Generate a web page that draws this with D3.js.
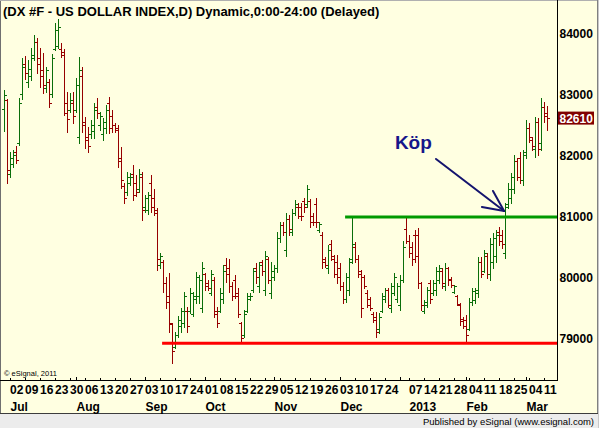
<!DOCTYPE html>
<html><head><meta charset="utf-8">
<script src="https://cdn.jsdelivr.net/npm/d3@7"></script>
<style>html,body{margin:0;padding:0;background:#fff;} svg{display:block;}</style>
</head><body><svg id="c" width="599" height="428"></svg>
<script>
// ---------- DATA ----------
const title = "(DX #F - US DOLLAR INDEX,D) Dynamic,0:00-24:00 (Delayed)";
const opens = [
82760,82900,81700,81850,82050,82200,83000,83500,83200,83300,
83600,83850,83600,83400,83100,83200,83000,83750,83800,83750,
83700,82850,82750,82850,82750,82300,83300,82550,82300,82350,
82400,82800,82500,82350,82450,82850,82650,82500,82450,81950,
81500,81400,81550,81700,81550,81450,81650,81150,81100,81550,
81300,81050,80200,80250,79900,79700,79230,78850,79050,79200,
79250,79450,79450,79400,79650,79700,79500,80050,79900,79750,
79950,79450,79450,79650,80200,80150,79850,79950,79750,79250,
79050,79450,79650,79800,80150,79850,80250,79800,80300,79750,
80000,80150,80650,80850,80450,80950,80750,81050,81150,81150,
81250,81200,81250,81000,81200,80780,80700,80300,80150,80550,
80300,80250,80150,79850,79650,79800,80300,80500,80300,80050,
80000,79750,79650,79400,79350,79150,79450,79650,79800,79500,
79750,79650,79550,79950,80800,80600,80500,80700,80700,79900,
79450,79550,79900,79750,79800,79950,80100,79850,80150,79980,
79760,79690,79550,79320,79300,79150,79600,79620,79750,80250,
80100,80350,80050,80250,80350,80750,80700,80400,81200,81300,
81450,81900,81950,81600,82050,82450,82250,82100,82550,82200,
82800,82700];
const highs = [
83070,82920,82055,82087,82150,82940,83595,83630,83560,83760,
83970,83920,83760,83675,83450,83250,83660,84170,84235,83840,
83740,83040,83020,83040,83265,83610,83450,82625,82460,82580,
82860,82940,82710,82610,82825,82955,82745,82530,82500,82135,
81550,81725,81710,81840,81675,81775,81725,81350,81400,81675,
81450,81135,80400,80285,80005,80070,79250,79105,79365,79495,
79760,79515,79825,79760,80085,80040,80250,80070,79955,80120,
80005,79515,79825,80200,80315,80300,79920,80040,79825,79265,
79465,79740,79740,80150,80235,80250,80285,80430,80335,80250,
80200,80740,80905,80905,81050,81020,81120,81265,81220,81220,
81300,81515,81285,81055,81300,80905,80740,80335,80530,80610,
80365,80365,80235,79920,80070,80315,80970,80580,80365,80120,
80040,79790,79675,79430,79430,79415,79740,79825,79825,79905,
80070,79905,80040,80595,80990,80695,80580,80775,80810,79920,
79630,79840,79955,79955,80170,80200,80150,80235,80170,80005,
79875,79710,79580,79350,79380,79660,79825,79825,80335,80335,
80450,80400,80645,80725,80775,80825,80775,81220,81545,81710,
82005,81955,82055,82085,82580,82530,82300,82625,82610,82940,
82875,82810];
const lows = [
82398,81550,81645,81810,81875,82170,82920,83250,83120,83235,
83560,83350,83120,83020,83040,82790,82950,83725,83760,83610,
82660,82380,82710,82530,82710,82200,82380,82120,82055,82285,
82285,82610,82415,82250,82365,82365,82380,82380,81810,81465,
81220,81350,81515,81270,81330,81400,80940,81070,81040,81070,
81020,80120,80150,79760,79495,79105,78595,78840,79020,79105,
79185,79105,79415,79365,79580,79580,79430,79790,79790,79710,
79350,79185,79430,79580,79920,79760,79630,79660,79350,78940,
79020,79430,79630,79760,79905,79760,80040,79710,79905,79660,
79955,80085,80580,80690,80350,80690,80690,81020,80970,80940,
81070,81155,80825,80860,80825,80740,80150,80170,80070,80285,
80005,79905,79790,79580,79595,79710,80235,80250,80005,79350,
79825,79515,79465,79265,79020,79085,79430,79595,79515,79430,
79710,79595,79465,79920,80565,80335,80200,80250,79825,79465,
79415,79515,79580,79710,79710,79905,79825,79790,79875,79840,
79740,79545,79220,79170,78925,79135,79545,79580,79675,80005,
80085,79995,79955,80150,80250,80530,80480,80315,81135,81220,
81380,81595,81545,81510,81955,82220,82085,81970,82005,82085,
82545,82415];
const closes = [
82990,81760,81950,82000,81920,82850,83450,83350,83420,83650,
83850,83500,83300,83150,83400,82850,83600,84050,84100,83650,
82700,82600,82900,82650,83150,83400,82500,82250,82150,82500,
82750,82700,82650,82550,82750,82450,82500,82420,81900,81600,
81300,81650,81650,81350,81400,81700,81100,81300,81350,81150,
81100,80300,80350,79900,79600,79250,78800,79050,79300,79450,
79700,79200,79750,79700,80000,79950,80150,79850,79820,80050,
79400,79250,79750,80100,80050,79850,79700,79700,79400,79000,
79400,79700,79700,80100,80000,80200,80100,80350,79950,80100,
80150,80650,80850,80750,80950,80800,81050,81200,81000,81000,
81150,81450,80900,80900,80900,80880,80250,80200,80450,80350,
80050,80000,79850,79650,80000,80250,80550,80300,80100,79500,
79850,79550,79500,79300,79100,79350,79700,79800,79550,79850,
80000,79850,79950,80500,80600,80400,80300,80350,79900,79550,
79600,79800,79650,79900,80100,80150,79900,80150,79950,79870,
79850,79570,79280,79200,79050,79600,79780,79800,80250,80050,
80400,80050,80550,80650,80700,80600,80550,81150,81450,81650,
81900,81650,81600,82000,82450,82300,82150,82550,82100,82800,
82650,82610];

const yTicks = [79000, 80000, 81000, 82000, 83000, 84000];
const lastPrice = 82610;

// trading calendar (daily bars)
const firstDay = "2012-06-28", lastDay = "2013-03-12";
const holidays = ["2012-12-25", "2013-01-01"];
const weekTickDates = ["2012-07-02","2012-07-09","2012-07-16","2012-07-23","2012-07-30",
  "2012-08-06","2012-08-13","2012-08-20","2012-08-27","2012-09-03","2012-09-10","2012-09-17","2012-09-24",
  "2012-10-01","2012-10-08","2012-10-15","2012-10-22","2012-10-29","2012-11-05","2012-11-12","2012-11-19","2012-11-26",
  "2012-12-03","2012-12-10","2012-12-17","2012-12-24","2013-01-07","2013-01-14","2013-01-21","2013-01-28",
  "2013-02-04","2013-02-11","2013-02-18","2013-02-25","2013-03-04","2013-03-11"];
const monthLabels = ["Jul","Aug","Sep","Oct","Nov","Dec","2013","Feb","Mar"];
const monthLabelDates = ["2012-07-02","2012-08-01","2012-09-03","2012-10-01","2012-11-01","2012-12-03","2013-01-07","2013-02-01","2013-03-01"];
const monthStartDates = ["2012-08-01","2012-09-03","2012-10-01","2012-11-01","2012-12-03","2013-01-02","2013-02-01","2013-03-01"];

// annotations (bar index, price)
const supportLevel = 78920, supportStart = 52.7;
const resistanceLevel = 80990, resistanceStart = 113.7;
const arrowTail = [144, 81940], arrowHead = [166.7, 81087];
const arrowBarbs = [[159.3, 81153], [163, 81415]];
const noteText = "Köp", notePos = [130.3, 82100];

// ---------- CHART ----------
const W = 599, H = 428;
const svg = d3.select("#c");
const bg = "#ffffe1";
const fmt = d3.timeFormat("%Y-%m-%d");
const parse = d3.timeParse("%Y-%m-%d");
const days = d3.timeDay.range(parse(firstDay), d3.timeDay.offset(parse(lastDay), 1))
  .filter(d => d.getDay() % 6 !== 0 && !holidays.includes(fmt(d))).map(fmt);
const idxOf = s => days.indexOf(s);
const N = closes.length;

const x = d3.scaleLinear().domain([0, N - 1]).range([4, 547]);
const y = d3.scaleLinear().domain([79000, 84000]).range([338.3, 33.3]);
const plotRight = 557.5, axisY = 380.5;

svg.append("rect").attr("x",0).attr("y",0).attr("width",W).attr("height",414).attr("fill",bg);
svg.append("rect").attr("x",0).attr("y",414).attr("width",W).attr("height",14).attr("fill","#ececec");
svg.append("line").attr("x1",0).attr("x2",W).attr("y1",413.5).attr("y2",413.5).attr("stroke","#3c3c3c");
svg.append("line").attr("x1",0.5).attr("x2",0.5).attr("y1",0).attr("y2",413).attr("stroke","#707070");
svg.append("line").attr("x1",0).attr("x2",W).attr("y1",0.5).attr("y2",0.5).attr("stroke","#b0b0b0");
svg.append("line").attr("x1",597.5).attr("x2",597.5).attr("y1",0).attr("y2",413).attr("stroke","#808080");
svg.append("line").attr("x1",598.5).attr("x2",598.5).attr("y1",0).attr("y2",428).attr("stroke","#c8c8c8");

// title
svg.append("text").attr("x",3).attr("y",15.5).text(title)
  .attr("font-family","'Liberation Sans', Arial, sans-serif").attr("font-weight","bold")
  .attr("font-size",13).attr("fill","#000");

// bars
const up = "#0a6e0a", dn = "#960000";
const g = svg.append("g").attr("shape-rendering","crispEdges");
for (let i = 0; i < N; i++) {
  const xi = Math.round(x(i)) + 0.5;
  const c = closes[i] >= opens[i] ? up : dn;
  const yh = Math.round(y(highs[i])), yl = Math.round(y(lows[i]));
  g.append("line").attr("x1",xi).attr("x2",xi).attr("y1",yh).attr("y2",yl+1).attr("stroke",c);
  const yo = Math.round(y(opens[i])) + 0.5, yc = Math.round(y(closes[i])) + 0.5;
  g.append("line").attr("x1",xi-2.5).attr("x2",xi).attr("y1",yo).attr("y2",yo).attr("stroke",c);
  g.append("line").attr("x1",xi).attr("x2",xi+2.5).attr("y1",yc).attr("y2",yc).attr("stroke",c);
}

// support / resistance lines
svg.append("line").attr("x1",x(supportStart)).attr("x2",plotRight).attr("y1",y(supportLevel)).attr("y2",y(supportLevel))
  .attr("stroke","#ff0000").attr("stroke-width",3);
svg.append("line").attr("x1",x(resistanceStart)).attr("x2",plotRight).attr("y1",y(resistanceLevel)).attr("y2",y(resistanceLevel))
  .attr("stroke","#009a00").attr("stroke-width",3);

// arrow annotation
const navy = "#14146e";
const ax = d => x(d[0]), ay = d => y(d[1]);
svg.append("line").attr("x1",ax(arrowTail)).attr("y1",ay(arrowTail)).attr("x2",ax(arrowHead)).attr("y2",ay(arrowHead))
  .attr("stroke",navy).attr("stroke-width",2).attr("stroke-linecap","round");
arrowBarbs.forEach(b => svg.append("line").attr("x1",ax(b)).attr("y1",ay(b)).attr("x2",ax(arrowHead)).attr("y2",ay(arrowHead))
  .attr("stroke",navy).attr("stroke-width",2).attr("stroke-linecap","round"));
svg.append("text").attr("x",ax(notePos)).attr("y",ay(notePos)).text(noteText)
  .attr("font-family","'Liberation Sans', Arial, sans-serif").attr("font-weight","bold").attr("font-size",19).attr("fill","#16168a");

// axes frame
svg.append("line").attr("x1",plotRight).attr("x2",plotRight).attr("y1",0).attr("y2",axisY+0.5).attr("stroke","#000");
svg.append("line").attr("x1",0).attr("x2",plotRight).attr("y1",axisY).attr("y2",axisY).attr("stroke","#000");

// y labels
const fontB = "'Liberation Sans', Arial, sans-serif";
svg.append("g").selectAll("text").data(yTicks).join("text")
  .attr("x",559.5).attr("y",d => y(d) + 4.5).text(d => d)
  .attr("font-family",fontB).attr("font-weight","bold").attr("font-size",12).attr("fill","#000");
svg.append("rect").attr("x",558).attr("y",y(lastPrice)-6.5).attr("width",36).attr("height",13).attr("fill","#800000");
svg.append("text").attr("x",559.5).attr("y",y(lastPrice)+4.5).text(lastPrice)
  .attr("font-family",fontB).attr("font-weight","bold").attr("font-size",12).attr("fill","#fff");

// x ticks
const tg = svg.append("g").attr("shape-rendering","crispEdges");
weekTickDates.forEach(s => {
  const xi = Math.round(x(idxOf(s))) + 0.5;
  tg.append("line").attr("x1",xi).attr("x2",xi).attr("y1",axisY-2.5).attr("y2",axisY).attr("stroke","#000");
});
monthStartDates.forEach(s => {
  const xi = Math.round(x(idxOf(s))) + 0.5;
  tg.append("line").attr("x1",xi).attr("x2",xi).attr("y1",axisY-3.5).attr("y2",axisY).attr("stroke","#000");
});
const dayFmt = d3.timeFormat("%d");
svg.append("g").selectAll("text").data(weekTickDates).join("text")
  .attr("x",d => x(idxOf(d))).attr("y",394).text(d => dayFmt(parse(d)))
  .attr("font-family",fontB).attr("font-weight","bold").attr("font-size",12).attr("fill","#000");
svg.append("g").selectAll("text").data(monthLabels).join("text")
  .attr("x",(d,i) => x(idxOf(monthLabelDates[i])) + 0.5).attr("y",410.5).text(d => d)
  .attr("font-family",fontB).attr("font-weight","bold").attr("font-size",12).attr("fill","#000");

// small texts
svg.append("text").attr("x",4).attr("y",375.5).text("© eSignal, 2011")
  .attr("font-family",fontB).attr("font-size",7.5).attr("fill","#000");
svg.append("text").attr("x",594).attr("y",424.5).attr("text-anchor","end").text("Published by eSignal (www.esignal.com)")
  .attr("font-family",fontB).attr("font-size",9.5).attr("fill","#000");
</script></body></html>
